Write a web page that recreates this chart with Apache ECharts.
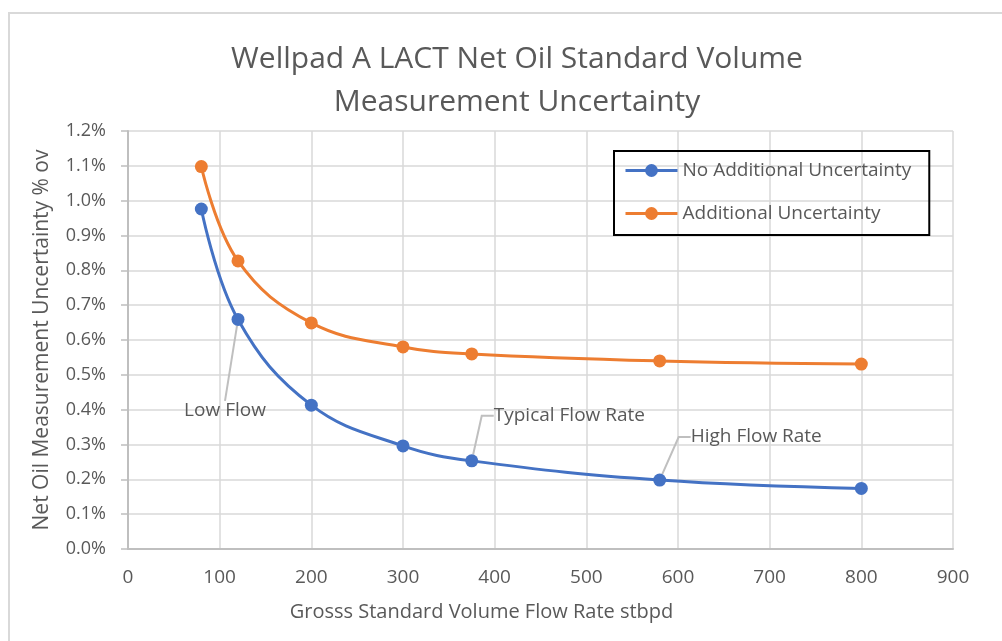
<!DOCTYPE html>
<html>
<head>
    <meta charset="utf-8">
    <title>Wellpad A LACT</title>
    <script src="https://cdn.jsdelivr.net/npm/echarts@6/dist/echarts.min.js"></script>
    <style>
        html, body { margin: 0; padding: 0; background: #fff; }
    </style>
</head>
<body>
    <div id="chart" style="width: 1002px;height:641px;"></div>
    <script type="text/javascript">
        // flow rate (stbpd) for each point
        var flowRates = [80, 120, 200, 300, 375, 580, 800];
        // uncertainty in % ov
        var noAddUncert = [0.976, 0.659, 0.413, 0.296, 0.253, 0.198, 0.174];
        var addUncert = [1.098, 0.827, 0.649, 0.580, 0.560, 0.540, 0.531];
        // callouts on the blue curve, by point index
        var calloutIdx = [1, 4, 5];
        var calloutText = ['Low Flow', 'Typical Flow Rate', 'High Flow Rate'];

        // where each callout sits relative to its point (px)
        var calloutMove = [
            { dx: -13, dy: 91, len2: 0, align: 'center' },
            { dx: 15, dy: -45, len2: 12, align: 'left' },
            { dx: 24, dy: -43, len2: 12, align: 'left' }
        ];

        var font = 'Open Sans, Noto Sans, sans-serif';
        var grey = '#595959';

        function makeBlue() {
            return flowRates.map(function (x, i) {
                var item = { value: [x, noAddUncert[i]] };
                var k = calloutIdx.indexOf(i);
                if (k >= 0) {
                    item.label = {
                        show: true,
                        position: 'inside',
                        align: calloutMove[k].align,
                        verticalAlign: 'middle',
                        formatter: calloutText[k],
                        color: grey,
                        fontSize: 19,
                        fontFamily: font,
                        padding: 7
                    };
                    item.labelLine = {
                        show: true,
                        length2: calloutMove[k].len2,
                        lineStyle: { color: '#bfbfbf', width: 2 }
                    };
                }
                return item;
            });
        }

        var chart = echarts.init(document.getElementById('chart'));
        chart.setOption({
            animation: false,
            backgroundColor: '#fff',
            title: {
                text: 'Wellpad A LACT Net Oil Standard Volume\nMeasurement Uncertainty',
                left: 512,
                textAlign: 'center',
                top: 33,
                textStyle: {
                    color: grey,
                    fontSize: 30,
                    fontWeight: 'normal',
                    fontFamily: font,
                    lineHeight: 43
                }
            },
            graphic: [{
                type: 'rect',
                shape: { x: 9, y: 13, width: 1100, height: 700 },
                style: { fill: 'none', stroke: '#d9d9d9', lineWidth: 2 },
                silent: true
            }],
            legend: {
                orient: 'vertical',
                left: 614,
                top: 151,
                padding: [10, 18, 12, 10],
                itemGap: 24,
                itemWidth: 52,
                itemHeight: 16,
                borderColor: '#000',
                borderWidth: 2,
                lineStyle: { width: 3 },
                textStyle: { color: grey, fontSize: 19, lineHeight: 18, fontFamily: font },
                data: ['No Additional Uncertainty', 'Additional Uncertainty']
            },
            grid: { left: 128, top: 131, right: 49, bottom: 92 },
            xAxis: {
                type: 'value',
                min: 0,
                max: 900,
                interval: 100,
                name: 'Grosss Standard Volume Flow Rate stbpd',
                nameLocation: 'middle',
                nameGap: 53,
                nameTextStyle: { color: grey, fontSize: 20, fontFamily: font, padding: [0, 118, 0, 0] },
                axisLine: { lineStyle: { color: '#bfbfbf', width: 2 } },
                axisTick: { show: false },
                axisLabel: { color: grey, fontSize: 19, fontFamily: font, margin: 19 },
                splitLine: { lineStyle: { color: '#d9d9d9', width: 1.5 } }
            },
            yAxis: {
                type: 'value',
                min: 0,
                max: 1.2,
                interval: 0.1,
                name: 'Net Oil Measurement Uncertainty % ov',
                nameLocation: 'middle',
                nameGap: 75,
                nameTextStyle: { color: grey, fontSize: 21, fontFamily: font },
                axisLine: { show: true, lineStyle: { color: '#bfbfbf', width: 2 } },
                axisTick: { show: true, length: 7, lineStyle: { color: '#bfbfbf', width: 1.5 } },
                axisLabel: {
                    color: grey, fontSize: 18, fontFamily: font, margin: 22,
                    formatter: function (v) { return v.toFixed(1) + '%'; }
                },
                splitLine: { lineStyle: { color: '#d9d9d9', width: 1.5 } }
            },
            series: [{
                name: 'No Additional Uncertainty',
                type: 'line',
                smooth: 0.4,
                symbol: 'circle',
                symbolSize: 13,
                color: '#4472c4',
                lineStyle: { width: 3 },
                data: makeBlue(),
                labelLayout: function (params) {
                    var k = calloutIdx.indexOf(params.dataIndex);
                    if (k < 0) return {};
                    return { dx: calloutMove[k].dx, dy: calloutMove[k].dy };
                },
                z: 3
            }, {
                name: 'Additional Uncertainty',
                type: 'line',
                smooth: 0.4,
                symbol: 'circle',
                symbolSize: 13,
                color: '#ed7d31',
                lineStyle: { width: 3 },
                data: flowRates.map(function (x, i) { return [x, addUncert[i]]; }),
                z: 2
            }]
        });
    </script>
</body>
</html>
